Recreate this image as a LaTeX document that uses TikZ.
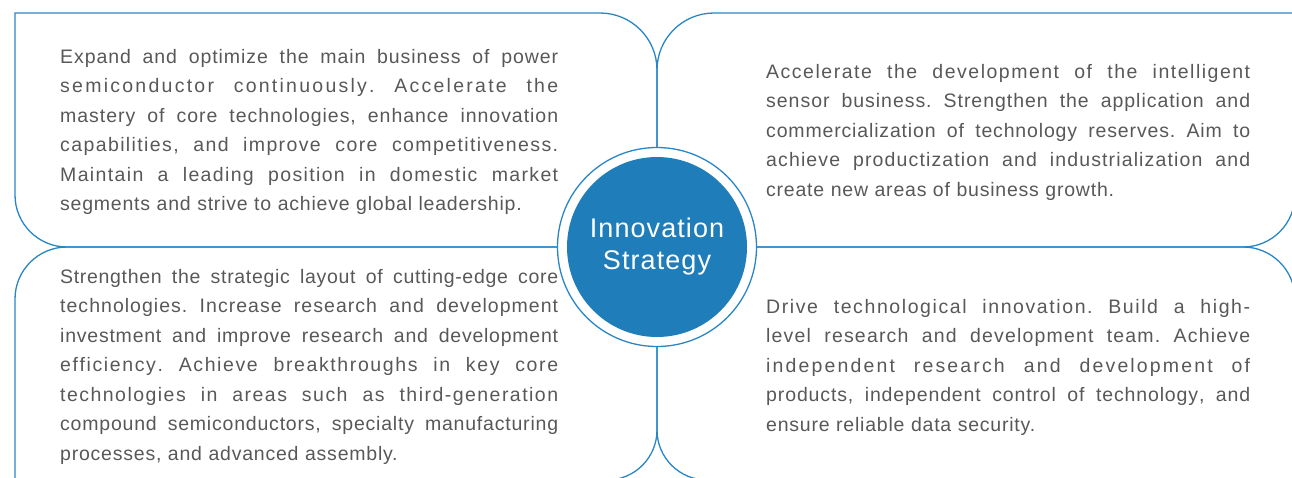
\documentclass[tikz,border=0pt]{standalone}
\usepackage{fontspec}
\setmainfont{Liberation Sans}[LetterSpace=4]
\definecolor{lineblue}{RGB}{40,134,198}
\definecolor{coreblue}{RGB}{31,125,185}
\definecolor{textgray}{RGB}{88,88,88}
\newlength{\panelw}
\XeTeXinterchartoks 0 0 = {\hskip 0pt plus 1pt\relax}
\newcommand{\fline}[1]{\makebox[\panelw][s]{\XeTeXinterchartokenstate=1
  \spaceskip=\fontdimen2\font plus 6pt\xspaceskip=\spaceskip #1}\\}

\begin{document}
\begin{tikzpicture}[x=1pt,y=-1pt,
  panel/.style={draw=lineblue,line width=1.3pt},
  paneltext/.style={anchor=north west,inner sep=0pt,text=textgray,align=left,
    font={\fontsize{19.5}{29.5}\selectfont\frenchspacing\parindent=0pt}}]
\useasboundingbox (0,0) rectangle (1292,477);
\clip (0,0) rectangle (1292,477);

\coordinate (c) at (657,247);

\draw[panel] (15,13) -- (600,13) arc[start angle=90,end angle=0,radius=57pt]
  -- (657,247) -- (67,247) arc[start angle=270,end angle=180,radius=52pt] -- cycle;
\draw[panel] (657,247) -- (657,70) arc[start angle=180,end angle=90,radius=57pt]
  -- (1295,13) -- (1295,195) arc[start angle=0,end angle=-90,radius=52pt] -- cycle;
\draw[panel] (15,480) -- (15,299) arc[start angle=180,end angle=90,radius=52pt]
  -- (657,247) -- (657,430) arc[start angle=0,end angle=-90,radius=50pt] -- cycle;
\draw[panel] (1295,480) -- (1295,299) arc[start angle=0,end angle=90,radius=52pt]
  -- (657,247) -- (657,430) arc[start angle=180,end angle=270,radius=50pt] -- cycle;

\node[circle,fill=white,draw=lineblue,line width=1.3pt,minimum size=199pt] (ring) at (c) {};
\node[circle,fill=coreblue,minimum size=180pt,text=white,align=center,
  font={\fontsize{27}{32}\selectfont}] (core) at (c) {Innovation\\Strategy};

\setlength{\panelw}{498pt}
\node[paneltext,text width=498pt] (power) at (60,49) {%
\fline{Expand and optimize the main business of power}
\fline{semiconductor continuously. Accelerate the}
\fline{mastery of core technologies, enhance innovation}
\fline{capabilities, and improve core competitiveness.}
\fline{Maintain a leading position in domestic market}
segments and strive to achieve global leadership.};

\node[paneltext,text width=498pt] (tech) at (60,269) {%
\fline{Strengthen the strategic layout of cutting-edge core}
\fline{technologies. Increase research and development}
\fline{investment and improve research and development}
\fline{efficiency. Achieve breakthroughs in key core}
\fline{technologies in areas such as third-generation}
\fline{compound semiconductors, specialty manufacturing}
processes, and advanced assembly.};

\setlength{\panelw}{484pt}
\node[paneltext,text width=484pt] (sensor) at (766,64) {%
\fline{Accelerate the development of the intelligent}
\fline{sensor business. Strengthen the application and}
\fline{commercialization of technology reserves. Aim to}
\fline{achieve productization and industrialization and}
create new areas of business growth.};

\node[paneltext,text width=484pt] (team) at (766,299) {%
\fline{Drive technological innovation. Build a high-}
\fline{level research and development team. Achieve}
\fline{independent research and development of}
\fline{products, independent control of technology, and}
ensure reliable data security.};
\end{tikzpicture}
\end{document}
